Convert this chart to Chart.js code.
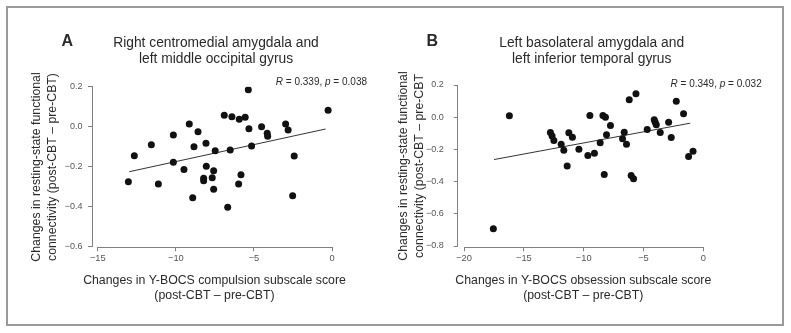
<!DOCTYPE html>
<html><head><meta charset="utf-8">
<script src="https://cdn.jsdelivr.net/npm/chart.js@4.4.0/dist/chart.umd.min.js"></script>
<style>
html,body{margin:0;padding:0;background:#fff;}
#wrap{position:relative;width:791px;height:333px;overflow:hidden;background:#fff;}
#frame{position:absolute;left:6px;top:6px;width:778px;height:320px;border:2px solid #9a9a9a;box-sizing:border-box;}
#cA{position:absolute;left:0;top:0;}
#cB{position:absolute;left:395px;top:0;}
</style></head><body>
<div id="wrap"><div id="frame"></div>
<canvas id="cA" width="395" height="333"></canvas>
<canvas id="cB" width="396" height="333"></canvas></div>
<script>
// ---- Panel A data ----
const compulsionChange = [-12.66,-11.57,-10.16,-9.14,-8.58,-8.84,-8.07,-7.48,-10.16,-9.48,-8.05,-7.58,-6.90,-6.41,-5.94,-5.56,-5.36,-5.32,-6.52,-5.15,-5.83,-4.51,-4.15,-4.12,-2.97,-2.81,-2.42,-0.25,-13.04,-11.12,-8.92,-8.22,-8.22,-7.67,-7.58,-5.98,-6.68,-2.52];
const connectivityA = [-0.145,-0.090,-0.042,0.013,-0.025,-0.100,-0.083,-0.120,-0.178,-0.214,-0.198,-0.220,0.057,0.050,0.037,0.047,0.185,-0.010,-0.117,-0.097,-0.240,0.000,-0.033,-0.048,0.013,-0.017,-0.147,0.082,-0.275,-0.287,-0.355,-0.258,-0.270,-0.255,-0.313,-0.287,-0.403,-0.345];
const fitXA = [-12.98, -0.41];
const fitYA = [-0.225, -0.0115];
const xTicksA = [-15, -10, -5, 0];
const xTickLabelsA = ['\u221215', '\u221210', '\u22125', '0'];
const yTicksA = [-0.6, -0.4, -0.2, 0, 0.2];
const yTickLabelsA = ['\u22120.6', '\u22120.4', '\u22120.2', '0.0', '0.2'];
const titleA = ['Right centromedial amygdala and', 'left middle occipital gyrus'];
const statA = ['0.339', '0.038'];
const xTitleA = ['Changes in Y-BOCS compulsion subscale score', '(post-CBT \u2013 pre-CBT)'];
const yTitleA = ['Changes in resting-state functional', 'connectivity (post-CBT \u2013 pre-CBT)'];

// ---- Panel B data ----
const obsessionChange = [-16.21,-12.78,-12.64,-12.49,-11.88,-11.66,-11.24,-10.94,-10.40,-9.65,-9.48,-9.10,-8.62,-8.39,-8.18,-8.09,-7.76,-8.28,-11.38,-6.75,-6.61,-6.42,-6.19,-5.63,-6.03,-5.83,-4.69,-4.10,-4.02,-3.93,-3.60,-2.90,-2.68,-2.26,-1.65,-1.23,-0.86,-17.55];
const connectivityB = [0.009,-0.095,-0.116,-0.145,-0.168,-0.205,-0.097,-0.124,-0.199,-0.238,0.011,-0.224,-0.159,0.011,0.000,-0.109,-0.052,-0.356,-0.303,-0.134,-0.093,-0.168,0.108,0.145,-0.362,-0.383,-0.076,-0.016,-0.031,-0.047,-0.095,-0.031,-0.126,0.099,0.021,-0.244,-0.211,-0.6925];
const fitXB = [-17.49, -1.09];
const fitYB = [-0.263, -0.037];
const xTicksB = [-20, -15, -10, -5, 0];
const xTickLabelsB = ['\u221220', '\u221215', '\u221210', '\u22125', '0'];
const yTicksB = [-0.8, -0.6, -0.4, -0.2, 0, 0.2];
const yTickLabelsB = ['\u22120.8', '\u22120.6', '\u22120.4', '\u22120.2', '0.0', '0.2'];
const titleB = ['Left basolateral amygdala and', 'left inferior temporal gyrus'];
const statB = ['0.349', '0.032'];
const xTitleB = ['Changes in Y-BOCS obsession subscale score', '(post-CBT \u2013 pre-CBT)'];
const yTitleB = ['Changes in resting-state functional', 'connectivity (post-CBT \u2013 pre-CBT'];

const FONT = '"Liberation Sans", Arial, Helvetica, sans-serif';
const TEXT = '#2a2a2a';
const AXIS = '#808080';

function alignPx(p) { return Math.round(p - 0.5) + 0.5; }

const panelText = {
  id: 'panelText',
  afterDraw(chart, args, o) {
    const ctx = chart.ctx, xs = chart.scales.x, ys = chart.scales.y, ca = chart.chartArea;
    ctx.save();
    // R-style axis lines spanning first to last tick
    ctx.strokeStyle = AXIS; ctx.lineWidth = 1;
    ctx.beginPath();
    const yb = alignPx(ca.bottom);
    ctx.moveTo(alignPx(xs.getPixelForValue(o.xTicks[0])) - 0.5, yb);
    ctx.lineTo(alignPx(xs.getPixelForValue(o.xTicks[o.xTicks.length - 1])) + 0.5, yb);
    const xl = alignPx(ca.left);
    ctx.moveTo(xl, alignPx(ys.getPixelForValue(o.yTicks[0])) + 0.5);
    ctx.lineTo(xl, alignPx(ys.getPixelForValue(o.yTicks[o.yTicks.length - 1])) - 0.5);
    ctx.stroke();

    ctx.fillStyle = TEXT;
    ctx.textBaseline = 'middle';
    // panel letter
    ctx.font = 'bold 16px ' + FONT;
    ctx.textAlign = 'left';
    ctx.fillText(o.letter, o.letterX, o.letterY);
    // panel title
    ctx.font = '13.8px ' + FONT;
    ctx.textAlign = 'center';
    o.title.forEach((t, i) => ctx.fillText(t, o.titleX, o.titleY + i * 16.6));
    // stats annotation
    const parts = [{t: 'R', i: true}, {t: ' = ' + o.stat[0] + ', '}, {t: 'p', i: true}, {t: ' = ' + o.stat[1]}];
    let total = 0;
    parts.forEach(p => { ctx.font = (p.i ? 'italic ' : '') + '10px ' + FONT; p.w = ctx.measureText(p.t).width; total += p.w; });
    let x = o.statRight - total;
    ctx.textAlign = 'left';
    parts.forEach(p => { ctx.font = (p.i ? 'italic ' : '') + '10px ' + FONT; ctx.fillText(p.t, x, o.statY); x += p.w; });
    // x axis title
    ctx.font = '12.3px ' + FONT;
    ctx.textAlign = 'center';
    o.xTitle.forEach((t, i) => ctx.fillText(t, o.xTitleX, o.xTitleY + i * 15.4));
    // y axis title (rotated)
    o.yTitle.forEach((t, i) => {
      ctx.save();
      ctx.translate(o.yTitleX + i * 15.2, o.yTitleY);
      ctx.rotate(-Math.PI / 2);
      ctx.fillText(t, 0, 0);
      ctx.restore();
    });
    ctx.restore();
  }
};

function makeChart(id, d) {
  const pts = d.xs.map((x, i) => ({x: x, y: d.ys[i]}));
  const fit = d.fx.map((x, i) => ({x: x, y: d.fy[i]}));
  return new Chart(document.getElementById(id), {
    type: 'scatter',
    data: {
      datasets: [
        {data: pts, pointRadius: 3.5, pointHoverRadius: 3.5, pointBackgroundColor: '#111', pointBorderWidth: 0, showLine: false},
        {data: fit, showLine: true, pointRadius: 0, borderColor: '#333', borderWidth: 1}
      ]
    },
    options: {
      responsive: false,
      animation: false,
      devicePixelRatio: 1,
      layout: {padding: d.pad},
      plugins: {legend: {display: false}, tooltip: {enabled: false}, title: {display: false}, panelText: d.text},
      scales: {
        x: {
          type: 'linear', min: d.xmin, max: d.xmax,
          afterBuildTicks: s => { s.ticks = d.xTicks.map(v => ({value: v})); },
          afterFit: s => { s.height = d.xScaleH; },
          ticks: {callback: (v) => d.xLabels[d.xTicks.indexOf(v)], font: {size: 9.3, family: FONT}, color: '#555', padding: 1.5, maxRotation: 0, autoSkip: false},
          grid: {display: true, drawOnChartArea: false, drawTicks: true, tickLength: 4, color: AXIS, lineWidth: 1},
          border: {display: false}
        },
        y: {
          type: 'linear', min: d.ymin, max: d.ymax,
          afterBuildTicks: s => { s.ticks = d.yTicks.map(v => ({value: v})); },
          afterFit: s => { s.width = d.yScaleW; },
          ticks: {callback: (v) => d.yLabels[d.yTicks.indexOf(v)], font: {size: 9, family: FONT}, color: '#555', padding: d.yPad, autoSkip: false},
          grid: {display: true, drawOnChartArea: false, drawTicks: true, tickLength: 4, color: AXIS, lineWidth: 1},
          border: {display: false}
        }
      }
    },
    plugins: [panelText]
  });
}

makeChart('cA', {
  xs: compulsionChange, ys: connectivityA, fx: fitXA, fy: fitYA,
  xTicks: xTicksA, xLabels: xTickLabelsA, yTicks: yTicksA, yLabels: yTickLabelsA,
  xmin: -15.37, xmax: 0, ymin: -0.603, ymax: 0.2,
  pad: {left: 0, top: 86.7, right: 63, bottom: 0}, xScaleH: 85.7, yScaleW: 92, yPad: 5.5,
  text: {letter: 'A', letterX: 61.5, letterY: 42, title: titleA, titleX: 216, titleY: 42.7,
    stat: statA, statRight: 367, statY: 82.5, xTitle: xTitleA, xTitleX: 214.5, xTitleY: 280.7,
    yTitle: yTitleA, yTitleX: 37, yTitleY: 167, xTicks: xTicksA, yTicks: yTicksA}
});

makeChart('cB', {
  xs: obsessionChange, ys: connectivityB, fx: fitXB, fy: fitYB,
  xTicks: xTicksB, xLabels: xTickLabelsB, yTicks: yTicksB, yLabels: yTickLabelsB,
  xmin: -20.53, xmax: 0, ymin: -0.808, ymax: 0.2,
  pad: {left: 0, top: 85, right: 87.7, bottom: 0}, xScaleH: 85.7, yScaleW: 62.7, yPad: 10,
  text: {letter: 'B', letterX: 31.5, letterY: 42, title: titleB, titleX: 196.7, titleY: 42.7,
    stat: statB, statRight: 366.7, statY: 84, xTitle: xTitleB, xTitleX: 188.3, xTitleY: 280.7,
    yTitle: yTitleB, yTitleX: 9, yTitleY: 166, xTicks: xTicksB, yTicks: yTicksB}
});
</script>
</body></html>
